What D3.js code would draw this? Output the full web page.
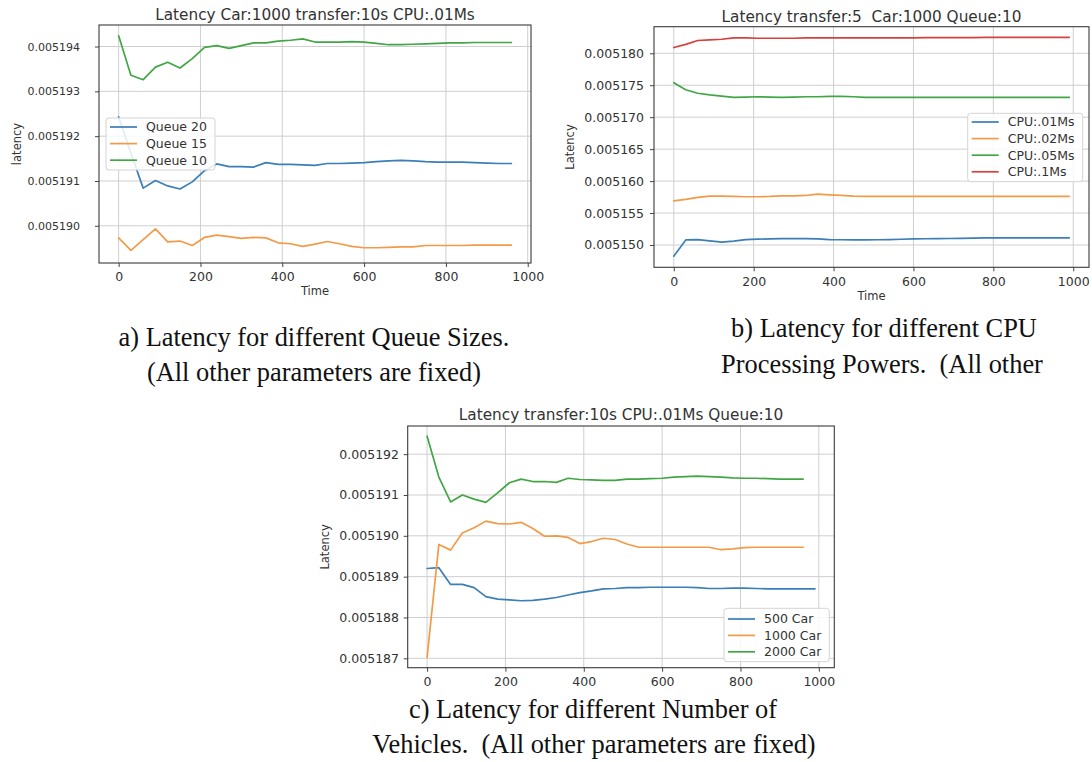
<!DOCTYPE html>
<html>
<head>
<meta charset="utf-8">
<script src="https://cdn.jsdelivr.net/npm/d3@7/dist/d3.min.js"></script>
<style>
  html, body { margin: 0; padding: 0; background: #fff; }
  svg { display: block; }
  .chart text { font-family: "DejaVu Sans", sans-serif; fill: #333; white-space: pre; }
  .caption { font-family: "Liberation Serif", "Times New Roman", serif; fill: #111; white-space: pre; }
</style>
</head>
<body>
<svg id="fig" width="1092" height="762"></svg>
<script>
// ---- sample times (simulation seconds) ----
const timesQueue = [0,30,60,90,120,150,180,210,240,270,300,330,360,390,420,450,480,510,540,570,600,630,660,690,720,750,780,810,840,870,900,930,960];
const timesCpu = [0,30,60,90,120,150,180,210,240,270,300,330,360,390,420,450,480,510,540,570,600,630,660,690,720,750,780,810,840,870,900,930,960,990];
const timesCar500 = [0,30,60,90,120,150,180,210,240,270,300,330,360,390,420,450,480,510,540,570,600,630,660,690,720,750,780,810,840,870,900,930,960,990];
const timesCar = [0,30,60,90,120,150,180,210,240,270,300,330,360,390,420,450,480,510,540,570,600,630,660,690,720,750,780,810,840,870,900,930,960];

// ---- a) latency per queue size ----
const queue20 = [0.00519243,0.00519162,0.00519084,0.00519101,0.00519089,0.00519082,0.00519098,0.00519123,0.00519138,0.00519132,0.00519132,0.00519131,0.00519141,0.00519137,0.00519137,0.00519136,0.00519135,0.00519139,0.00519139,0.00519140,0.00519141,0.00519143,0.00519145,0.00519146,0.00519145,0.00519143,0.00519142,0.00519142,0.00519142,0.00519141,0.00519140,0.00519139,0.00519139];
const queue15 = [0.00518973,0.00518945,0.00518969,0.00518993,0.00518964,0.00518966,0.00518956,0.00518974,0.00518979,0.00518976,0.00518972,0.00518974,0.00518973,0.00518962,0.00518960,0.00518954,0.00518959,0.00518965,0.00518960,0.00518954,0.00518951,0.00518951,0.00518952,0.00518953,0.00518953,0.00518956,0.00518956,0.00518956,0.00518956,0.00518957,0.00518957,0.00518957,0.00518957];
const queue10 = [0.00519424,0.00519336,0.00519326,0.00519354,0.00519365,0.00519352,0.00519373,0.00519398,0.00519402,0.00519396,0.00519402,0.00519408,0.00519408,0.00519412,0.00519414,0.00519417,0.00519410,0.00519410,0.00519410,0.00519411,0.00519410,0.00519407,0.00519404,0.00519404,0.00519405,0.00519406,0.00519407,0.00519408,0.00519408,0.00519409,0.00519409,0.00519409,0.00519409];

// ---- b) latency per CPU processing time ----
const cpu01 = [0.00514825,0.00515080,0.00515085,0.00515065,0.00515045,0.00515060,0.00515085,0.00515092,0.00515095,0.00515100,0.00515100,0.00515100,0.00515095,0.00515085,0.00515082,0.00515080,0.00515080,0.00515082,0.00515085,0.00515090,0.00515095,0.00515098,0.00515100,0.00515102,0.00515105,0.00515107,0.00515110,0.00515112,0.00515113,0.00515113,0.00515113,0.00515113,0.00515113,0.00515113];
const cpu02 = [0.00515690,0.00515715,0.00515745,0.00515765,0.00515765,0.00515760,0.00515755,0.00515755,0.00515760,0.00515770,0.00515770,0.00515775,0.00515795,0.00515785,0.00515775,0.00515765,0.00515762,0.00515762,0.00515762,0.00515762,0.00515762,0.00515762,0.00515762,0.00515762,0.00515762,0.00515762,0.00515762,0.00515762,0.00515762,0.00515762,0.00515762,0.00515762,0.00515762,0.00515762];
const cpu05 = [0.00517540,0.00517430,0.00517375,0.00517350,0.00517330,0.00517310,0.00517315,0.00517320,0.00517315,0.00517310,0.00517315,0.00517320,0.00517320,0.00517325,0.00517325,0.00517320,0.00517310,0.00517310,0.00517310,0.00517310,0.00517310,0.00517310,0.00517310,0.00517310,0.00517310,0.00517310,0.00517310,0.00517310,0.00517310,0.00517310,0.00517310,0.00517310,0.00517310,0.00517310];
const cpu1 = [0.00518090,0.00518140,0.00518200,0.00518210,0.00518220,0.00518240,0.00518240,0.00518235,0.00518235,0.00518235,0.00518235,0.00518240,0.00518240,0.00518240,0.00518240,0.00518240,0.00518240,0.00518240,0.00518240,0.00518240,0.00518240,0.00518245,0.00518245,0.00518245,0.00518245,0.00518245,0.00518250,0.00518250,0.00518250,0.00518250,0.00518250,0.00518250,0.00518250,0.00518250];

// ---- c) latency per number of vehicles ----
const car500 = [0.00518920,0.00518922,0.00518881,0.00518881,0.00518873,0.00518851,0.00518845,0.00518843,0.00518841,0.00518842,0.00518845,0.00518849,0.00518855,0.00518861,0.00518865,0.00518870,0.00518871,0.00518873,0.00518873,0.00518874,0.00518874,0.00518874,0.00518874,0.00518873,0.00518871,0.00518871,0.00518872,0.00518872,0.00518871,0.00518870,0.00518870,0.00518870,0.00518870,0.00518870];
const car1000 = [0.00518702,0.00518979,0.00518965,0.00519007,0.00519020,0.00519036,0.00519030,0.00519029,0.00519033,0.00519018,0.00518999,0.00519000,0.00518996,0.00518981,0.00518986,0.00518994,0.00518991,0.00518980,0.00518972,0.00518972,0.00518972,0.00518972,0.00518972,0.00518972,0.00518972,0.00518966,0.00518968,0.00518971,0.00518972,0.00518972,0.00518972,0.00518972,0.00518972];
const car2000 = [0.00519244,0.00519144,0.00519083,0.00519100,0.00519090,0.00519082,0.00519105,0.00519130,0.00519139,0.00519133,0.00519133,0.00519131,0.00519141,0.00519138,0.00519137,0.00519136,0.00519136,0.00519139,0.00519139,0.00519140,0.00519141,0.00519144,0.00519145,0.00519146,0.00519145,0.00519144,0.00519142,0.00519141,0.00519141,0.00519140,0.00519139,0.00519139,0.00519139];

// ---- tick values ----
const xTicks = [0, 200, 400, 600, 800, 1000];
const yTicksQueue = [0.005190, 0.005191, 0.005192, 0.005193, 0.005194];
const yTicksCpu = [0.005150, 0.005155, 0.005160, 0.005165, 0.005170, 0.005175, 0.005180];
const yTicksCar = [0.005187, 0.005188, 0.005189, 0.005190, 0.005191, 0.005192];

const C = { blue: "#3b7fb6", orange: "#f39a48", green: "#42a646", red: "#d6403f" };

const svg = d3.select("#fig");
svg.append("rect").attr("width", 1092).attr("height", 762).attr("fill", "#fff");

function drawPanel(o) {
  const g = svg.append("g").attr("class", "chart");
  const x = d3.scaleLinear().domain(o.xDomain).range([o.left, o.right]);
  const y = d3.scaleLinear().domain(o.yDomain).range([o.bottom, o.top]);
  const fmt = d3.format(".6f");

  // grid
  g.append("g").selectAll("line").data(xTicks).join("line")
    .attr("x1", d => x(d)).attr("x2", d => x(d))
    .attr("y1", o.top).attr("y2", o.bottom)
    .attr("stroke", "#cfcfcf").attr("stroke-width", 1);
  g.append("g").selectAll("line").data(o.yTicks).join("line")
    .attr("x1", o.left).attr("x2", o.right)
    .attr("y1", d => y(d)).attr("y2", d => y(d))
    .attr("stroke", "#cfcfcf").attr("stroke-width", 1);

  // axes
  const ax = g.append("g").attr("transform", `translate(0,${o.bottom})`)
    .call(d3.axisBottom(x).tickValues(xTicks).tickFormat(d3.format("d")).tickSize(4).tickPadding(o.xPad));
  const ay = g.append("g").attr("transform", `translate(${o.left},0)`)
    .call(d3.axisLeft(y).tickValues(o.yTicks).tickFormat(fmt).tickSize(4).tickPadding(o.yPad));
  [ax, ay].forEach(a => {
    a.select(".domain").remove();
    a.selectAll(".tick line").attr("stroke", "#444");
    a.selectAll(".tick text").attr("fill", "#333").attr("font-family", "DejaVu Sans, sans-serif");
  });
  ax.selectAll(".tick text").attr("font-size", o.tickFont);
  ay.selectAll(".tick text").attr("font-size", o.yTickFont);

  // series
  const line = d3.line().x(d => x(d[0])).y(d => y(d[1]));
  o.series.forEach(s => {
    g.append("path").datum(s.t.map((t, i) => [t, s.v[i]]))
      .attr("d", line).attr("fill", "none")
      .attr("stroke", s.color).attr("stroke-width", 1.7)
      .attr("stroke-linejoin", "round").attr("stroke-linecap", "round");
  });

  // frame
  g.append("rect").attr("x", o.left).attr("y", o.top)
    .attr("width", o.right - o.left).attr("height", o.bottom - o.top)
    .attr("fill", "none").attr("stroke", "#3a3a3a").attr("stroke-width", 1.1);

  // title and axis labels
  g.append("text").attr("x", (o.left + o.right) / 2).attr("y", o.titleY).attr("dy", "0.35em")
    .attr("text-anchor", "middle").attr("font-size", 15.3).text(o.title);
  g.append("text").attr("transform", `translate(${o.ylabelX},${(o.top + o.bottom) / 2}) rotate(-90)`)
    .attr("dy", "0.35em").attr("text-anchor", "middle").attr("font-size", 11.5).text(o.ylabel);
  if (o.xlabel) {
    g.append("text").attr("x", (o.left + o.right) / 2).attr("y", o.xlabelY).attr("dy", "0.35em")
      .attr("text-anchor", "middle").attr("font-size", 11.5).text(o.xlabel);
  }

  // legend
  const L = o.legend;
  g.append("rect").attr("x", L.x).attr("y", L.y).attr("width", L.w).attr("height", L.h)
    .attr("rx", 3).attr("fill", "#fff").attr("fill-opacity", 0.85)
    .attr("stroke", "#d4d4d4").attr("stroke-width", 1);
  o.series.slice().sort((a, b) => a.order - b.order).forEach((s, i) => {
    const ry = L.y + L.first + i * L.step;
    g.append("line").attr("x1", L.x + 4).attr("x2", L.x + 31).attr("y1", ry).attr("y2", ry)
      .attr("stroke", s.color).attr("stroke-width", 1.7);
    g.append("text").attr("x", L.x + 40).attr("y", ry).attr("dy", "0.35em")
      .attr("font-size", 12.5).text(s.name);
  });
}

drawPanel({
  left: 99, right: 531, top: 25, bottom: 263,
  xDomain: [-48, 1008], yDomain: [0.00518917, 0.00519448],
  yTicks: yTicksQueue, tickFont: 12.5, yTickFont: 11, xPad: 5.5, yPad: 15,
  title: "Latency Car:1000 transfer:10s CPU:.01Ms", titleY: 15,
  ylabel: "latency", ylabelX: 17, xlabel: "Time", xlabelY: 291,
  series: [
    { t: timesQueue, v: queue20, color: C.blue, name: "Queue 20", order: 0 },
    { t: timesQueue, v: queue15, color: C.orange, name: "Queue 15", order: 1 },
    { t: timesQueue, v: queue10, color: C.green, name: "Queue 10", order: 2 }
  ],
  legend: { x: 106, y: 118, w: 109, h: 52, first: 9, step: 16.6 }
});

drawPanel({
  left: 654, right: 1089, top: 26.7, bottom: 267.3,
  xDomain: [-49.5, 1039.5], yDomain: [0.00514651, 0.00518416],
  yTicks: yTicksCpu, tickFont: 12.5, yTickFont: 12.5, xPad: 5.5, yPad: 6,
  title: "Latency transfer:5  Car:1000 Queue:10", titleY: 16.5,
  ylabel: "Latency", ylabelX: 570, xlabel: "Time", xlabelY: 296,
  series: [
    { t: timesCpu, v: cpu01, color: C.blue, name: "CPU:.01Ms", order: 0 },
    { t: timesCpu, v: cpu02, color: C.orange, name: "CPU:.02Ms", order: 1 },
    { t: timesCpu, v: cpu05, color: C.green, name: "CPU:.05Ms", order: 2 },
    { t: timesCpu, v: cpu1, color: C.red, name: "CPU:.1Ms", order: 3 }
  ],
  legend: { x: 967.7, y: 113.3, w: 115, h: 68.4, first: 8.7, step: 16.6 }
});

drawPanel({
  left: 407.7, right: 834.3, top: 426, bottom: 667.7,
  xDomain: [-49.5, 1039.5], yDomain: [0.00518677, 0.00519269],
  yTicks: yTicksCar, tickFont: 12.5, yTickFont: 12.5, xPad: 5.5, yPad: 4.7,
  title: "Latency transfer:10s CPU:.01Ms Queue:10", titleY: 415,
  ylabel: "Latency", ylabelX: 325,
  series: [
    { t: timesCar500, v: car500, color: C.blue, name: "500 Car", order: 0 },
    { t: timesCar, v: car1000, color: C.orange, name: "1000 Car", order: 1 },
    { t: timesCar, v: car2000, color: C.green, name: "2000 Car", order: 2 }
  ],
  legend: { x: 724, y: 608.3, w: 105.3, h: 53.4, first: 10.7, step: 16.4 }
});

// captions
const captions = [
  { x: 314, y: 346, text: "a) Latency for different Queue Sizes." },
  { x: 314, y: 381, text: "(All other parameters are fixed)" },
  { x: 884, y: 337, text: "b) Latency for different CPU" },
  { x: 882, y: 373, text: "Processing Powers.  (All other" },
  { x: 593, y: 718, text: "c) Latency for different Number of" },
  { x: 594, y: 753, text: "Vehicles.  (All other parameters are fixed)" }
];
svg.append("g").selectAll("text").data(captions).join("text")
  .attr("class", "caption").attr("x", d => d.x).attr("y", d => d.y)
  .attr("text-anchor", "middle").attr("font-size", 26.4)
  .text(d => d.text);
</script>
</body>
</html>
